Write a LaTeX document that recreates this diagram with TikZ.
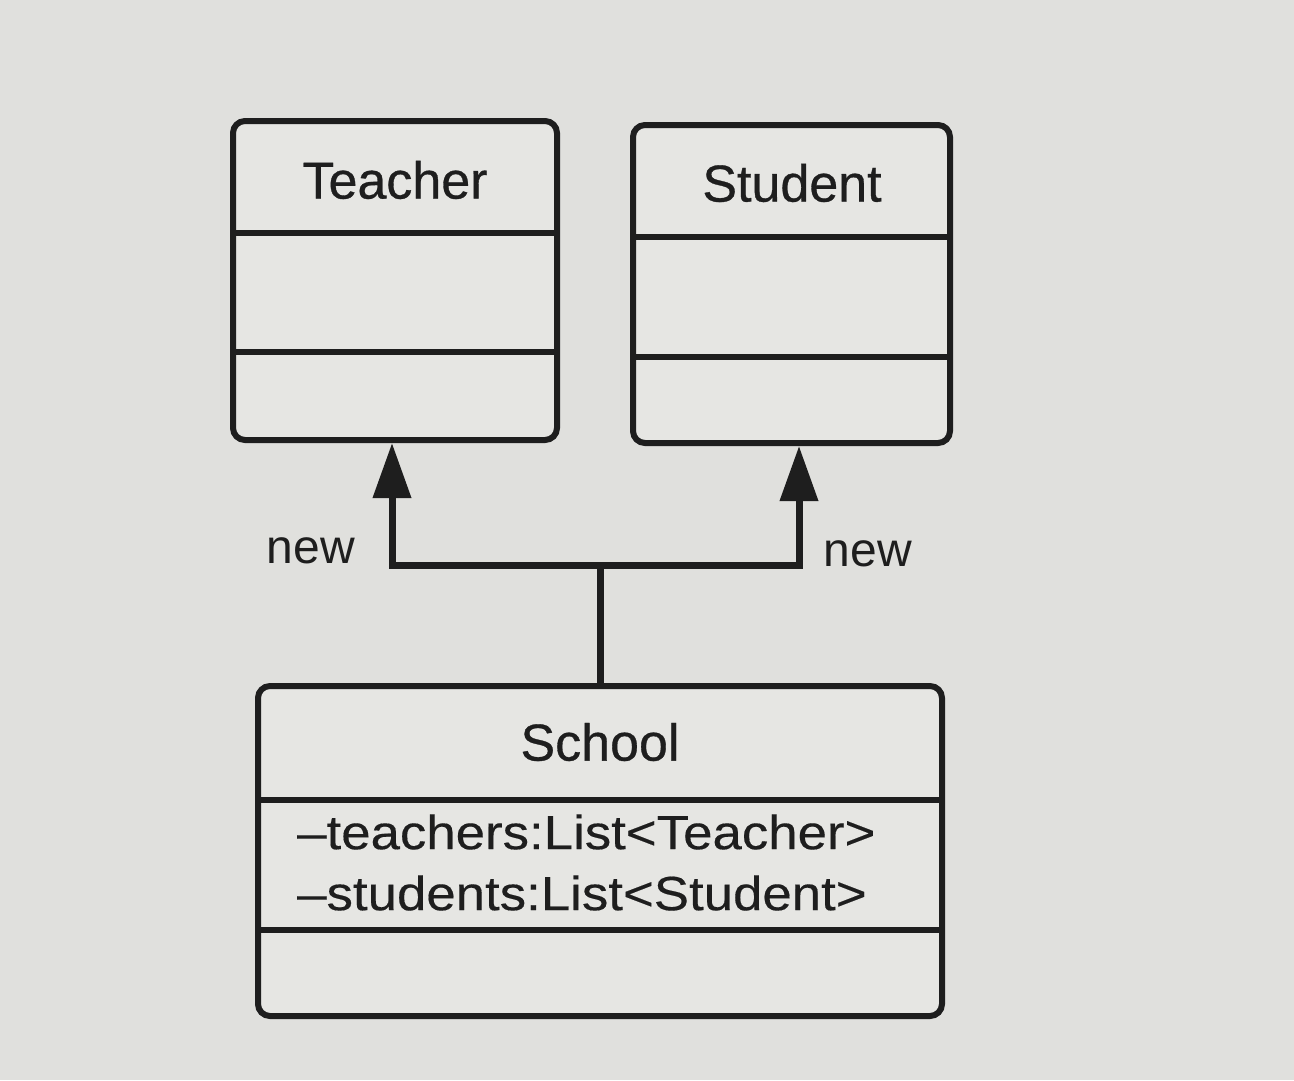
\documentclass[tikz,border=0pt]{standalone}
\usepackage{fontspec}
\setmainfont{Liberation Sans}
\newfontfamily\titlefont[FakeBold=0.6]{Liberation Sans}
\newfontfamily\attrfont[FakeStretch=1.1,FakeBold=0.3]{Liberation Sans}
\usetikzlibrary{arrows.meta,calc}
\definecolor{paper}{RGB}{224,224,221}
\definecolor{boxfill}{RGB}{230,230,227}
\definecolor{ink}{RGB}{30,30,30}
\begin{document}
\begin{tikzpicture}[x=1pt,y=-1pt,
  umlbox/.style={draw=ink,fill=boxfill,line width=6pt,rounded corners=12pt,inner sep=0pt},
  divider/.style={draw=ink,line width=6pt},
  title/.style={text=ink,font=\titlefont\fontsize{52}{62}\selectfont,inner sep=0pt},
  attr/.style={text=ink,font=\attrfont\fontsize{48}{58}\selectfont,inner sep=0pt,anchor=west},
  lbl/.style={text=ink,font=\fontsize{48}{58}\selectfont,inner sep=0pt},
  conn/.style={draw=ink,line width=7pt},
  dep/.style={conn,-{Triangle[length=55pt,width=37pt]}}]
  % page
  \fill[paper] (0,0) rectangle (1294,1080);
  \useasboundingbox (0,0) rectangle (1294,1080);

  % Teacher class
  \node[umlbox,minimum width=324pt,minimum height=319pt] (teacher) at (395,280.5) {};
  \node[title] (teachername) at (395,180) {Teacher};
  \draw[divider] (teacher.west |- 0,233) -- (teacher.east |- 0,233);
  \draw[divider] (teacher.west |- 0,352) -- (teacher.east |- 0,352);

  % Student class
  \node[umlbox,minimum width=317pt,minimum height=318pt] (student) at (791.5,284) {};
  \node[title] (studentname) at (792,183) {Student};
  \draw[divider] (student.west |- 0,237) -- (student.east |- 0,237);
  \draw[divider] (student.west |- 0,357) -- (student.east |- 0,357);

  % School class
  \node[umlbox,minimum width=684pt,minimum height=330pt] (school) at (600,851) {};
  \node[title] (schoolname) at (600,742) {School};
  \draw[divider] (school.west |- 0,800) -- (school.east |- 0,800);
  \draw[divider] (school.west |- 0,930) -- (school.east |- 0,930);
  \node[attr] (attrteachers) at (297,832) {–teachers:List<Teacher>};
  \node[attr] (attrstudents) at (297,893) {–students:List<Student>};

  % "new" dependencies
  \coordinate (fork) at (600,565);
  \draw[conn] (school.north) -- (fork);
  \draw[dep] ([xshift=2pt]fork) -| ([xshift=-3pt]teacher.south);
  \draw[dep] ([xshift=-2pt]fork) -| ([xshift=7.5pt]student.south);
  \node[lbl] (newleft) at (311,551) {new};
  \node[lbl] (newright) at (868,554) {new};
\end{tikzpicture}
\end{document}
